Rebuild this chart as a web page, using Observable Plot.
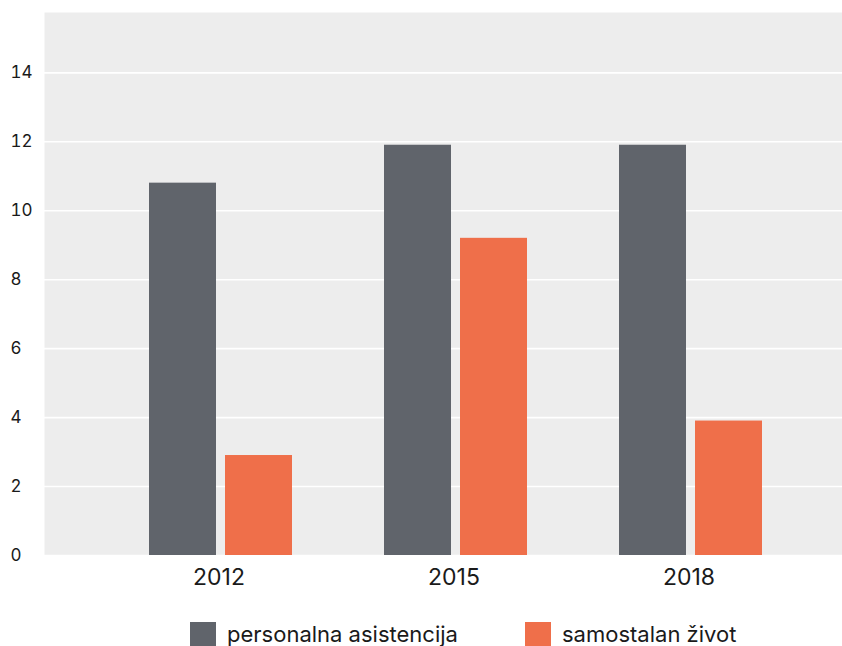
<!DOCTYPE html>
<html>
<head>
<meta charset="utf-8">
<script src="https://cdn.jsdelivr.net/npm/d3@7"></script>
<script src="https://cdn.jsdelivr.net/npm/@observablehq/plot@0.6"></script>
<style>
  body { margin: 0; background: #fff; font-family: Inter, "Noto Sans", sans-serif; overflow: hidden; }
  #legend { height: 41px; position: relative; }
  .item { position: absolute; display: flex; align-items: center; font-size: 22px; color: #1a1a1a; top: 17px; line-height: 24px; }
  .sw { width: 26px; height: 24px; margin-right: 11px; }
</style>
</head>
<body>
<div id="chart"></div>
<div id="legend"></div>
<script>
const years = ["2012", "2015", "2018"];
const series = ["personalna asistencija", "samostalan život"];
const personalna = [10.8, 11.9, 11.9];
const samostalan = [2.9, 9.2, 3.9];
const yTicks = [0, 2, 4, 6, 8, 10, 12, 14];
const colors = ["#60646b", "#ef6f4a"];

const dataP = years.map((y, i) => ({year: y, value: personalna[i], series: series[0]}));
const dataS = years.map((y, i) => ({year: y, value: samostalan[i], series: series[1]}));

const chart = Plot.plot({
  width: 842,
  height: 605,
  marginLeft: 44,
  marginRight: 0,
  marginTop: 12,
  marginBottom: 50,
  style: {fontFamily: "Inter, 'Noto Sans', sans-serif", background: "#fff"},
  x: {domain: years, range: [101, 806], padding: 0, label: null},
  y: {domain: [0, 15.75], label: null},
  color: {domain: series, range: colors},
  marks: [
    Plot.frame({fill: "#ededed", stroke: null}),
    Plot.gridY(yTicks, {stroke: "#fff", strokeOpacity: 1, strokeWidth: 1.6}),
    Plot.barY(dataP, {x: "year", y: "value", fill: colors[0], insetLeft: 48, insetRight: 120}),
    Plot.barY(dataS, {x: "year", y: "value", fill: colors[1], insetLeft: 124, insetRight: 44}),
    Plot.axisY(yTicks, {tickSize: 0, tickPadding: 0, textAnchor: "start", dx: -34, fontSize: 17, fill: "#1a1a1a", label: null}),
    Plot.axisX(years, {tickSize: 0, tickPadding: 13, fontSize: 23, fill: "#1a1a1a", label: null})
  ]
});
document.getElementById("chart").appendChild(chart);

const legend = document.getElementById("legend");
const lefts = [190, 525];
series.forEach((s, i) => {
  const it = document.createElement("div");
  it.className = "item";
  it.style.left = lefts[i] + "px";
  const sw = document.createElement("div");
  sw.className = "sw";
  sw.style.background = colors[i];
  const t = document.createElement("span");
  t.textContent = s;
  it.appendChild(sw);
  it.appendChild(t);
  legend.appendChild(it);
});
</script>
</body>
</html>
